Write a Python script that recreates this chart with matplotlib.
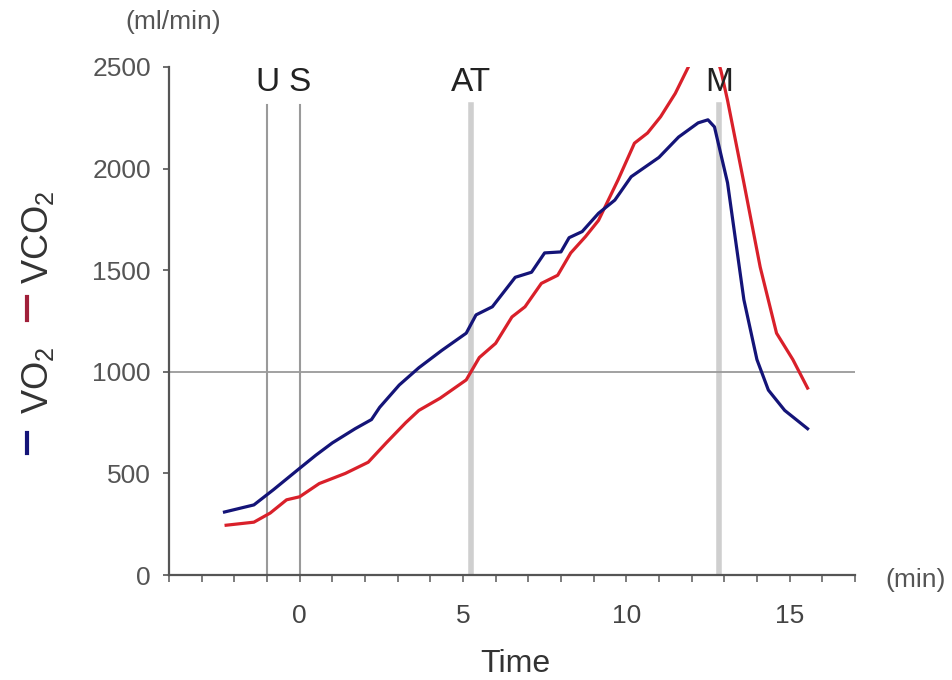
import numpy as np
import matplotlib
matplotlib.use('Agg')
import matplotlib.pyplot as plt
from matplotlib.ticker import FixedLocator, MultipleLocator

plt.rcParams['font.family'] = ['Liberation Sans', 'DejaVu Sans']
plt.rcParams['mathtext.fontset'] = 'custom'
plt.rcParams['mathtext.rm'] = 'Liberation Sans'

# VO2 (blue), minutes / ml/min
t_vo2 = [-2.3, -1.4, -0.8, 0.0, 0.5, 1.0, 1.7, 2.2, 2.45, 3.05, 3.65, 4.35,
         5.1, 5.4, 5.9, 6.6, 7.1, 7.5, 8.0, 8.25, 8.65, 9.15, 9.65, 10.15,
         11.0, 11.6, 12.2, 12.5, 12.7, 13.1, 13.6, 14.0, 14.35, 14.85, 15.55]
vo2 = [310, 345, 420, 525, 590, 650, 720, 765, 825, 935, 1020, 1105,
       1190, 1280, 1320, 1465, 1490, 1585, 1590, 1660, 1690, 1780, 1845, 1960,
       2055, 2155, 2225, 2240, 2205, 1930, 1355, 1060, 910, 810, 720]

# VCO2 (red)
t_vco2 = [-2.25, -1.4, -0.9, -0.4, 0.0, 0.6, 1.4, 2.1, 2.65, 3.25, 3.65, 4.3,
          5.1, 5.5, 6.0, 6.5, 6.9, 7.4, 7.9, 8.3, 8.75, 9.15, 9.75, 10.25,
          10.65, 11.05, 11.5, 11.9, 12.4, 12.9, 13.1, 13.6, 14.1, 14.6, 15.1, 15.55]
vco2 = [245, 260, 305, 370, 385, 450, 500, 555, 650, 750, 810, 870,
        960, 1070, 1140, 1270, 1320, 1435, 1475, 1585, 1665, 1745, 1945, 2125,
        2175, 2255, 2370, 2500, 2750, 2480, 2336, 1930, 1515, 1190, 1060, 920]

# event markers
thin_events = [-1.0, 0.0]
thin_names = ['U', 'S']
thick_events = [5.25, 12.85]
thick_names = ['AT', 'M']
ref_level = 1000

xticks = [0, 5, 10, 15]
yticks = [0, 500, 1000, 1500, 2000, 2500]

fig = plt.figure(figsize=(9.53, 6.8), dpi=100)
ax = fig.add_axes([0.1773, 0.1544, 0.7198, 0.7471])

for x in thin_events:
    ax.axvline(x, ymin=0, ymax=0.925, color='#9a9a9a', lw=1.5, zorder=1)
for x in thick_events:
    ax.axvline(x, ymin=0, ymax=0.925, color='#cfcfcf', lw=4, zorder=1)
ax.axhline(ref_level, color='#9a9a9a', lw=1.3, zorder=1)

ax.plot(t_vco2, vco2, color='#d9202a', lw=2.3, zorder=3)
ax.plot(t_vo2, vo2, color='#141478', lw=2.3, zorder=4)

lab_tr = ax.get_xaxis_transform()
for x, name in zip(thin_events + thick_events, thin_names + thick_names):
    ax.text(x, 0.97, name, transform=lab_tr, ha='center', va='center',
            fontsize=24, color='#222222')

ax.set_xlim(-4, 17)
ax.set_ylim(0, 2500)
for s in ['top', 'right']:
    ax.spines[s].set_visible(False)
for s in ['left', 'bottom']:
    ax.spines[s].set_color('#555555')
    ax.spines[s].set_linewidth(1.6)

ax.xaxis.set_major_locator(FixedLocator(xticks))
ax.xaxis.set_minor_locator(MultipleLocator(1))
ax.set_yticks(yticks)
ax.tick_params(axis='x', which='both', direction='out', length=5, width=1.2,
               color='#666666', labelsize=19, labelcolor='#444444', pad=16)
ax.tick_params(axis='y', direction='out', length=4, width=1.2,
               color='#555555', labelsize=19, labelcolor='#555555', pad=9)

ax.set_xlabel('Time', fontsize=23, color='#333333')
ax.xaxis.set_label_coords(0.505, -0.145)
ax.text(1.044, -0.01, '(min)', transform=ax.transAxes, ha='left', va='center',
        fontsize=19, color='#555555')
ax.text(0.006, 1.089, '(ml/min)', transform=ax.transAxes, ha='center',
        va='center', fontsize=19, color='#555555')

# composite y label: coloured dashes + rotated names
W, H = 953.0, 680.0
fig.add_artist(plt.Line2D([27 / W, 27 / W], [1 - 453 / H, 1 - 433 / H],
                          color='#141478', lw=3))
fig.add_artist(plt.Line2D([27 / W, 27 / W], [1 - 320 / H, 1 - 297 / H],
                          color='#a0203a', lw=3))
fig.text(38 / W, 1 - 380 / H, 'VO$_\\mathregular{2}$', rotation=90,
         ha='center', va='center', fontsize=26, color='#333333')
fig.text(38 / W, 1 - 237 / H, 'VCO$_\\mathregular{2}$', rotation=90,
         ha='center', va='center', fontsize=26, color='#333333')

fig.savefig('out.png', dpi=100)
